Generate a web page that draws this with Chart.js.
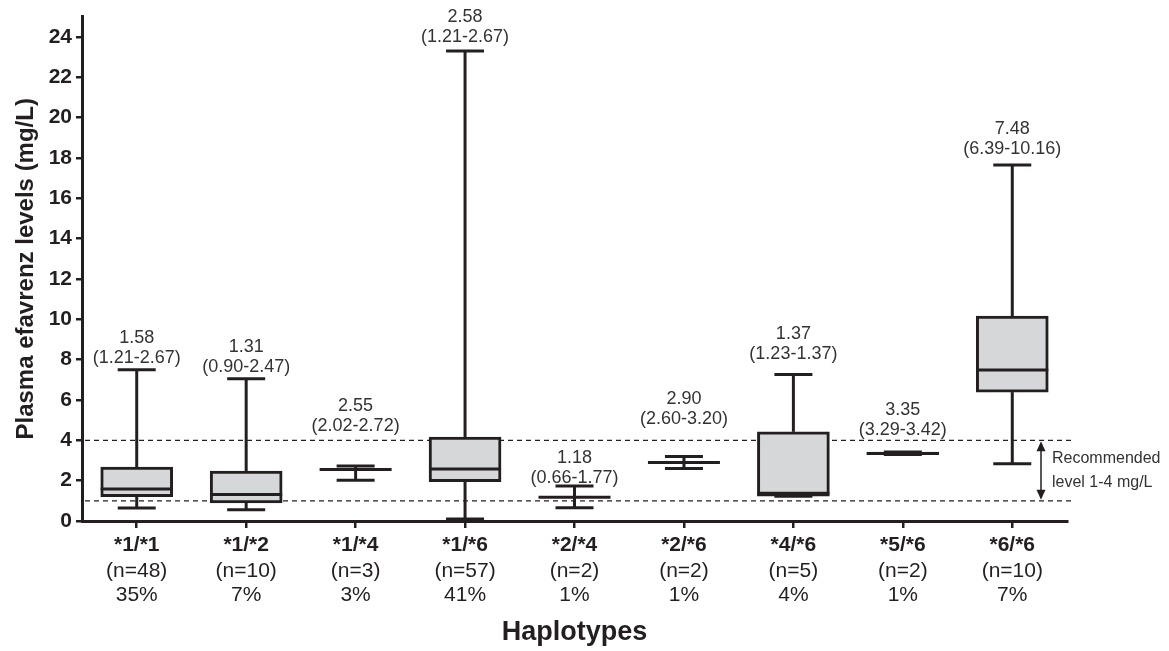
<!DOCTYPE html>
<html>
<head>
    <title>Plasma efavirenz levels by haplotype</title>
    <style>
        body {
            margin: 0;
            background: #ffffff;
        }
        #chart-container {
            width: 1169px;
            height: 651px;
        }
    </style>
    <script src="https://cdn.jsdelivr.net/npm/chart.js"></script>
</head>
<body>
    <div id="chart-container">
        <canvas id="boxChart"></canvas>
    </div>
    <script>
        // values
        const haplotypes = ['*1/*1', '*1/*2', '*1/*4', '*1/*6', '*2/*4', '*2/*6', '*4/*6', '*5/*6', '*6/*6'];
        const sampleSizes = ['(n=48)', '(n=10)', '(n=3)', '(n=57)', '(n=2)', '(n=2)', '(n=5)', '(n=2)', '(n=10)'];
        const percentages = ['35%', '7%', '3%', '41%', '1%', '1%', '4%', '1%', '7%'];
        const whiskerMin = [0.64, 0.56, 2.02, 0.10, 0.66, 2.60, 1.23, 3.29, 2.84];
        const quartile1 = [1.21, 0.90, null, 1.95, null, null, 1.23, 3.29, 6.39];
        const medians = [1.58, 1.31, 2.55, 2.58, 1.18, 2.90, 1.37, 3.35, 7.48];
        const quartile3 = [2.67, 2.47, null, 4.16, null, null, 4.42, 3.42, 10.16];
        const whiskerMax = [7.50, 7.05, 2.72, 23.30, 1.74, 3.20, 7.26, 3.42, 17.65];
        const medianLabels = ['1.58', '1.31', '2.55', '2.58', '1.18', '2.90', '1.37', '3.35', '7.48'];
        const rangeLabels = ['(1.21-2.67)', '(0.90-2.47)', '(2.02-2.72)', '(1.21-2.67)', '(0.66-1.77)',
                             '(2.60-3.20)', '(1.23-1.37)', '(3.29-3.42)', '(6.39-10.16)'];
        const yTicks = [0, 2, 4, 6, 8, 10, 12, 14, 16, 18, 20, 22, 24];
        const recommendedLevels = [1, 4];

        // layout tweaks (pixels): gap between the upper cap and the label block
        const labelGaps = [12, 12, 40, 14, 8, 37, 20, 22, 16];

        const ink = '#231f20';
        const fontFamily = '"Liberation Sans", Arial, Helvetica, sans-serif';

        function line(ctx, x1, y1, x2, y2) {
            ctx.beginPath();
            ctx.moveTo(x1, y1);
            ctx.lineTo(x2, y2);
            ctx.stroke();
        }

        const boxPlotPlugin = {
            id: 'boxPlot',
            beforeDatasetsDraw(chart) {
                const { ctx, chartArea, scales: { x, y } } = chart;
                ctx.save();

                // recommended range, dashed
                ctx.strokeStyle = ink;
                ctx.lineWidth = 1.3;
                ctx.setLineDash([5, 4]);
                recommendedLevels.forEach(level => {
                    const py = y.getPixelForValue(level);
                    line(ctx, chartArea.left + 3, py, chartArea.right + 8, py);
                });
                ctx.setLineDash([]);

                // whiskers with caps
                ctx.lineWidth = 3;
                ctx.lineCap = 'butt';
                haplotypes.forEach((h, i) => {
                    const cx = x.getPixelForValue(i);
                    const upper = quartile3[i] ?? medians[i];
                    const lower = quartile1[i] ?? medians[i];
                    const yMax = y.getPixelForValue(whiskerMax[i]);
                    const yMin = y.getPixelForValue(whiskerMin[i]);
                    line(ctx, cx, yMax, cx, y.getPixelForValue(upper));
                    line(ctx, cx, y.getPixelForValue(lower), cx, yMin);
                    line(ctx, cx - 19, yMax, cx + 19, yMax);
                    line(ctx, cx - 19, yMin, cx + 19, yMin);
                });
                ctx.restore();
            },
            afterDatasetsDraw(chart) {
                const { ctx, chartArea, scales: { x, y } } = chart;
                ctx.save();

                // medians
                ctx.strokeStyle = ink;
                ctx.lineWidth = 3;
                haplotypes.forEach((h, i) => {
                    const cx = x.getPixelForValue(i);
                    const py = y.getPixelForValue(medians[i]);
                    line(ctx, cx - 36, py, cx + 36, py);
                });

                // median (range) labels above each plot
                ctx.fillStyle = '#333333';
                ctx.textAlign = 'center';
                ctx.textBaseline = 'middle';
                ctx.font = '18px ' + fontFamily;
                haplotypes.forEach((h, i) => {
                    const cx = x.getPixelForValue(i);
                    const capY = y.getPixelForValue(whiskerMax[i]);
                    const rangeY = capY - labelGaps[i];
                    ctx.fillText(rangeLabels[i], cx, rangeY);
                    ctx.fillText(medianLabels[i], cx, rangeY - 20);
                });

                // category labels under the axis
                const base = chartArea.bottom;
                ctx.fillStyle = ink;
                haplotypes.forEach((h, i) => {
                    const cx = x.getPixelForValue(i);
                    ctx.font = 'bold 21px ' + fontFamily;
                    ctx.fillText(h, cx, base + 24);
                    ctx.font = '21px ' + fontFamily;
                    ctx.fillText(sampleSizes[i], cx, base + 50);
                    ctx.fillText(percentages[i], cx, base + 74);
                });

                // recommended level arrow + note
                const ax = chartArea.right - 26;
                const yTop = y.getPixelForValue(recommendedLevels[1]);
                const yBot = y.getPixelForValue(recommendedLevels[0]);
                ctx.lineWidth = 1.5;
                line(ctx, ax, yTop + 8, ax, yBot - 8);
                ctx.beginPath();
                ctx.moveTo(ax, yTop + 1);
                ctx.lineTo(ax - 4.5, yTop + 11);
                ctx.lineTo(ax + 4.5, yTop + 11);
                ctx.closePath();
                ctx.fill();
                ctx.beginPath();
                ctx.moveTo(ax, yBot - 1);
                ctx.lineTo(ax - 4.5, yBot - 11);
                ctx.lineTo(ax + 4.5, yBot - 11);
                ctx.closePath();
                ctx.fill();

                ctx.textAlign = 'left';
                ctx.fillStyle = '#333333';
                ctx.font = '16px ' + fontFamily;
                const mid = (yTop + yBot) / 2;
                ctx.fillText('Recommended', ax + 11, mid - 12);
                ctx.fillText('level 1-4 mg/L', ax + 11, mid + 12);
                ctx.restore();
            }
        };

        const ctx = document.getElementById('boxChart').getContext('2d');
        new Chart(ctx, {
            type: 'bar',
            data: {
                labels: haplotypes,
                datasets: [{
                    label: 'Interquartile range',
                    data: haplotypes.map((h, i) => quartile1[i] == null ? null : [quartile1[i], quartile3[i]]),
                    backgroundColor: '#d6d7d9',
                    borderColor: ink,
                    borderWidth: 3,
                    borderSkipped: false,
                    barThickness: 72
                }]
            },
            options: {
                responsive: true,
                maintainAspectRatio: false,
                animation: false,
                layout: {
                    padding: { top: 15, right: 102, left: 0, bottom: 0 }
                },
                plugins: {
                    legend: { display: false },
                    tooltip: { enabled: false }
                },
                scales: {
                    x: {
                        offset: true,
                        afterFit: scale => { scale.height = 130; },
                        grid: {
                            offset: false,
                            drawOnChartArea: false,
                            drawTicks: true,
                            tickLength: 7,
                            lineWidth: 2.5,
                            color: ink
                        },
                        border: { display: true, width: 3, color: ink },
                        ticks: { display: false },
                        title: {
                            display: true,
                            text: 'Haplotypes',
                            color: ink,
                            font: { family: fontFamily, size: 27, weight: 'bold' },
                            padding: { top: 0, bottom: 2 }
                        }
                    },
                    y: {
                        min: 0,
                        max: 25,
                        afterFit: scale => { scale.width = 82; },
                        afterBuildTicks: scale => { scale.ticks = yTicks.map(v => ({ value: v })); },
                        grid: {
                            drawOnChartArea: false,
                            drawTicks: true,
                            tickLength: 6,
                            lineWidth: 2.5,
                            color: ink
                        },
                        border: { display: true, width: 3, color: ink },
                        ticks: {
                            padding: 4,
                            color: ink,
                            font: { family: fontFamily, size: 21, weight: 'bold' }
                        },
                        title: {
                            display: true,
                            text: 'Plasma efavrenz levels (mg/L)',
                            color: ink,
                            font: { family: fontFamily, size: 24, weight: 'bold' },
                            padding: { top: 12, bottom: 0 }
                        }
                    }
                }
            },
            plugins: [boxPlotPlugin]
        });
    </script>
</body>
</html>
